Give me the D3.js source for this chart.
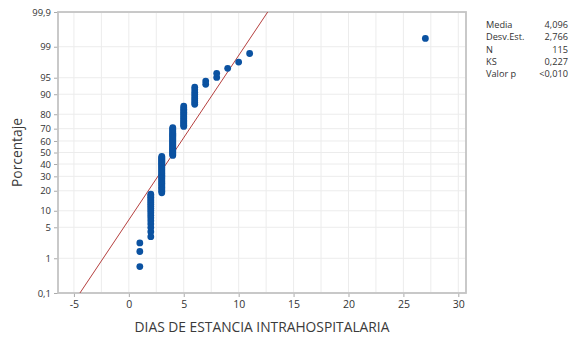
<!DOCTYPE html>
<html>
<head>
<meta charset="utf-8">
<script src="https://cdn.jsdelivr.net/npm/d3@7"></script>
<style>
  body { margin: 0; background: #fff; }
  text { font-family: "Open Sans", "Noto Sans", sans-serif; }
</style>
</head>
<body>
<div id="chart"></div>
<script>
// days of stay and how many patients had each value
const dayValues = [1, 2, 3, 4, 5, 6, 7, 8, 9, 10, 11, 27];
const dayCounts = [3, 18, 33, 28, 16, 9, 2, 2, 1, 1, 1, 1];
const fitMean = 4.096, fitSd = 2.766;
const xTicks = [-5, 0, 5, 10, 15, 20, 25, 30];
const yTicks = [0.1, 1, 5, 10, 20, 30, 40, 50, 60, 70, 80, 90, 95, 99, 99.9];
const statLabels = ["Media", "Desv.Est.", "N", "KS", "Valor p"];
const statValues = ["4,096", "2,766", "115", "0,227", "<0,010"];

const width = 570, height = 338,
  margin = ({ top: 12, right: 104, bottom: 45, left: 58 });

// inverse normal cdf (Acklam)
function qnorm(p) {
  const a = [-39.69683028665376, 220.9460984245205, -275.9285104469687, 138.3577518672690, -30.66479806614716, 2.506628277459239],
    b = [-54.47609879822406, 161.5858368580409, -155.6989798598866, 66.80131188771972, -13.28068155288572],
    c = [-0.007784894002430293, -0.3223964580411365, -2.400758277161838, -2.549732539343734, 4.374664141464968, 2.938163982698783],
    d = [0.007784695709041462, 0.3224671290700398, 2.445134137142996, 3.754408661907416];
  const pl = 0.02425;
  let q, r;
  if (p < pl) {
    q = Math.sqrt(-2 * Math.log(p));
    return (((((c[0]*q+c[1])*q+c[2])*q+c[3])*q+c[4])*q+c[5]) / ((((d[0]*q+d[1])*q+d[2])*q+d[3])*q+1);
  } else if (p <= 1 - pl) {
    q = p - 0.5; r = q * q;
    return (((((a[0]*r+a[1])*r+a[2])*r+a[3])*r+a[4])*r+a[5])*q / (((((b[0]*r+b[1])*r+b[2])*r+b[3])*r+b[4])*r+1);
  } else {
    q = Math.sqrt(-2 * Math.log(1 - p));
    return -(((((c[0]*q+c[1])*q+c[2])*q+c[3])*q+c[4])*q+c[5]) / ((((d[0]*q+d[1])*q+d[2])*q+d[3])*q+1);
  }
}

// expand to sorted observations, median ranks
const obs = [];
dayValues.forEach((v, k) => { for (let j = 0; j < dayCounts[k]; j++) obs.push(v); });
const n = obs.length;
const points = obs.map((v, i) => ({ x: v, p: (i + 1 - 0.3) / (n + 0.4) }));

const x = d3.scaleLinear()
  .domain([-6.45, 30.7])
  .range([margin.left, width - margin.right]);

const zMax = qnorm(0.999);
const y = d3.scaleLinear()
  .domain([-zMax, zMax])
  .range([height - margin.bottom, margin.top]);
const yp = p => y(qnorm(p / 100));

const svg = d3.select("#chart")
  .append("svg")
  .attr("width", width)
  .attr("height", height)
  .attr("viewBox", [0, 0, width, height]);

svg.append("defs").append("clipPath").attr("id", "clip")
  .append("rect")
  .attr("x", margin.left).attr("y", margin.top)
  .attr("width", width - margin.right - margin.left)
  .attr("height", height - margin.bottom - margin.top);

// grid
const grid = svg.append("g").attr("stroke", "#ececec").attr("stroke-width", 1);
d3.range(-5, 30.1, 2.5).forEach(v => {
  grid.append("line")
    .attr("x1", x(v)).attr("x2", x(v))
    .attr("y1", margin.top).attr("y2", height - margin.bottom);
});
yTicks.forEach(t => {
  grid.append("line")
    .attr("x1", margin.left).attr("x2", width - margin.right)
    .attr("y1", yp(t)).attr("y2", yp(t));
});

// axes
const fmt = d => String(d).replace(".", ",");
const xAxis = svg.append("g")
  .attr("transform", `translate(0,${height - margin.bottom})`)
  .call(d3.axisBottom(x).tickValues(xTicks).tickSize(4).tickPadding(4).tickFormat(d => d));
const yAxis = svg.append("g")
  .attr("transform", `translate(${margin.left},0)`)
  .call(d3.axisLeft(y).tickValues(yTicks.map(t => qnorm(t / 100))).tickSize(4).tickPadding(3)
    .tickFormat((d, i) => fmt(yTicks[i])));
[xAxis, yAxis].forEach(g => {
  g.select(".domain").remove();
  g.selectAll(".tick line").attr("stroke", "#aaa");
  g.selectAll(".tick text").attr("fill", "#333")
    .style("font-family", "'Open Sans', sans-serif");
});
xAxis.selectAll(".tick text").attr("font-size", 10.5);
yAxis.selectAll(".tick text").attr("font-size", 9.5);

// frame
svg.append("rect")
  .attr("x", margin.left).attr("y", margin.top)
  .attr("width", width - margin.right - margin.left)
  .attr("height", height - margin.bottom - margin.top)
  .attr("fill", "none")
  .attr("stroke", "#c4c4c4")
  .attr("stroke-width", 1.8);

// fitted line
svg.append("line")
  .attr("clip-path", "url(#clip)")
  .attr("x1", x(fitMean - fitSd * 4)).attr("y1", y(-4))
  .attr("x2", x(fitMean + fitSd * 4)).attr("y2", y(4))
  .attr("stroke", "#b5403f")
  .attr("stroke-width", 1);

// points
svg.append("g")
  .selectAll("circle")
  .data(points)
  .join("circle")
  .attr("cx", d => x(d.x))
  .attr("cy", d => yp(d.p * 100))
  .attr("r", 3.4)
  .attr("fill", "#0b52a1");

// axis titles
svg.append("text")
  .attr("x", (margin.left + width - margin.right) / 2)
  .attr("y", 332)
  .attr("text-anchor", "middle")
  .attr("font-size", 13.8)
  .attr("fill", "#3a3a3a")
  .text("DIAS DE ESTANCIA INTRAHOSPITALARIA");

svg.append("text")
  .attr("transform", `translate(22,${(margin.top + height - margin.bottom) / 2}) rotate(-90)`)
  .attr("text-anchor", "middle")
  .attr("font-size", 13.8)
  .attr("fill", "#3a3a3a")
  .text("Porcentaje");

// stats table
const stats = svg.append("g").attr("font-size", 9.2).attr("fill", "#333");
statLabels.forEach((s, i) => {
  stats.append("text").attr("x", 486).attr("y", 28 + i * 12.3).text(s);
  stats.append("text").attr("x", 568).attr("y", 28 + i * 12.3)
    .attr("text-anchor", "end").text(statValues[i]);
});
</script>
</body>
</html>
